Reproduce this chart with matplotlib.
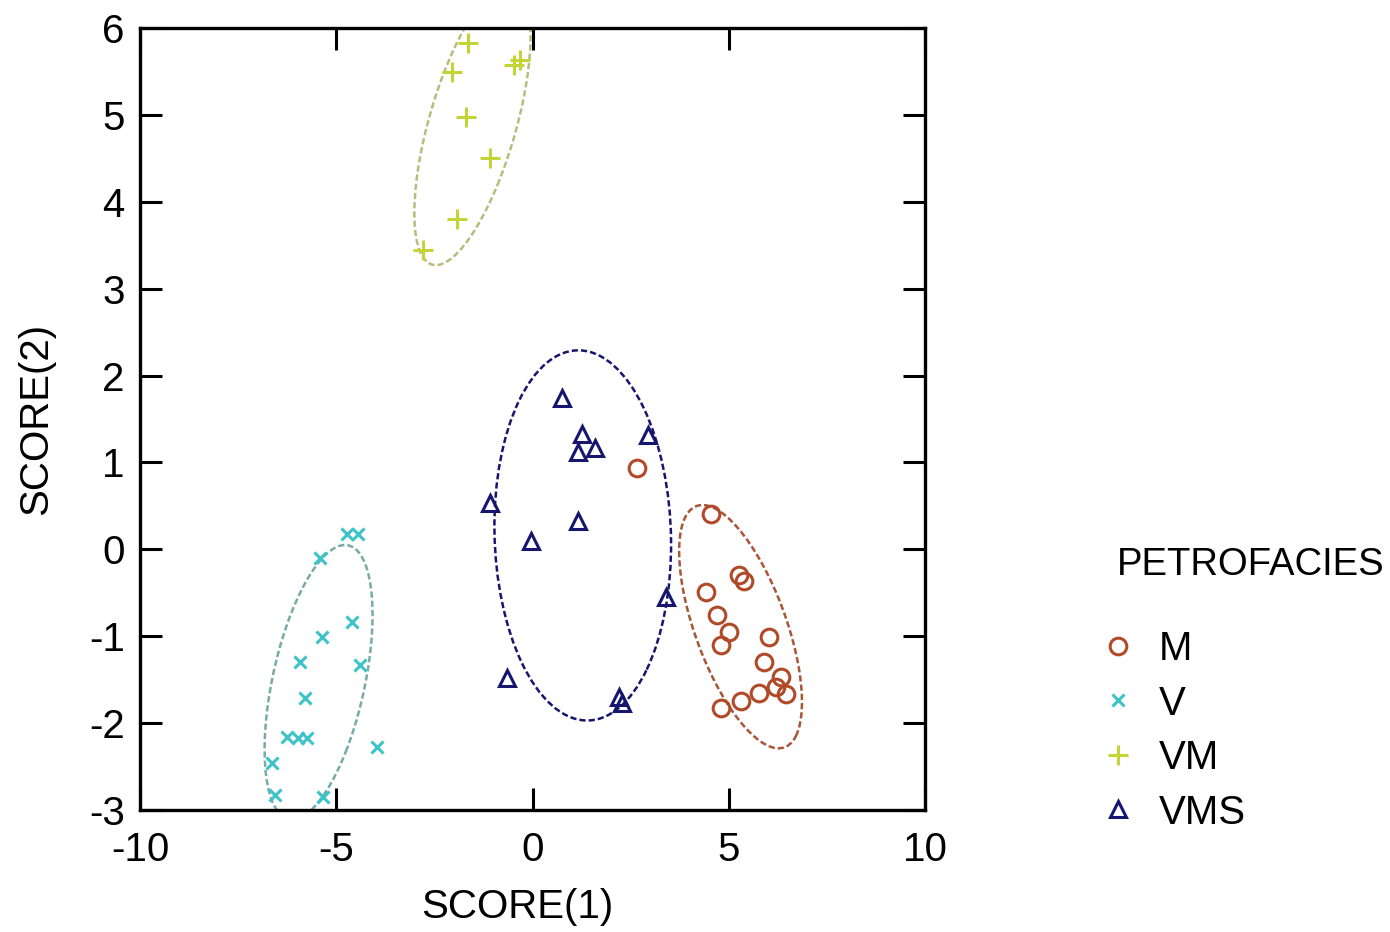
import numpy as np
import matplotlib

matplotlib.use("Agg")
import matplotlib.pyplot as plt
import matplotlib.transforms as mtransforms
from matplotlib.patches import Ellipse

plt.rcParams["font.family"] = ["Liberation Sans", "DejaVu Sans"]
plt.rcParams["axes.unicode_minus"] = False

groups = ["M", "V", "VM", "VMS"]

# discriminant scores
m_x = [2.65, 4.55, 5.27, 5.39, 4.43, 4.71, 5.01, 4.81, 6.03, 5.90, 6.34, 6.46, 5.78, 5.32, 4.81, 6.21]
m_y = [0.94, 0.41, -0.30, -0.36, -0.49, -0.76, -0.95, -1.10, -1.01, -1.30, -1.47, -1.66, -1.65, -1.74, -1.83, -1.59]

v_x = [-4.73, -4.45, -5.42, -4.61, -5.37, -5.93, -4.40, -5.80, -6.26, -5.98, -5.75, -3.97, -6.64, -6.56, -5.34]
v_y = [0.18, 0.18, -0.10, -0.84, -1.01, -1.30, -1.33, -1.71, -2.16, -2.17, -2.17, -2.28, -2.46, -2.83, -2.85]

vm_x = [-1.65, -2.06, -0.46, -0.33, -1.70, -1.09, -1.93, -2.80]
vm_y = [5.83, 5.49, 5.57, 5.63, 4.97, 4.50, 3.80, 3.45]

vms_x = [0.76, 1.25, 1.58, 1.15, 2.93, -1.09, 1.15, -0.03, 3.41, -0.64, 2.21, 2.29]
vms_y = [1.74, 1.33, 1.17, 1.12, 1.31, 0.53, 0.33, 0.10, -0.55, -1.48, -1.70, -1.77]

# group ellipses: centre, half extent in x / y, correlation
ell_cx = [5.30, -5.45, -1.53, 1.28]
ell_cy = [-0.89, -1.53, 4.89, 0.16]
ell_sx = [1.565, 1.375, 1.48, 2.25]
ell_sy = [1.40, 1.58, 1.62, 2.13]
ell_rho = [-0.62, 0.49, 0.63, -0.05]

xs = [m_x, v_x, vm_x, vms_x]
ys = [m_y, v_y, vm_y, vms_y]
markers = ["o", "x", "+", "^"]
msizes = [12, 8, 14, 11]
mcolors = ["#b04a28", "#3cc4c8", "#c4d436", "#16166e"]
ecolors = ["#a8553a", "#78aaaa", "#b8bc7c", "#16166e"]

fig = plt.figure(figsize=(13.9, 9.32), dpi=100)
ax = fig.add_axes([0.1007, 0.1309, 0.5648, 0.8391])

handles = []
for i, g in enumerate(groups):
    (h,) = ax.plot(
        xs[i], ys[i], linestyle="none", marker=markers[i], ms=msizes[i],
        mfc="none", mec=mcolors[i], mew=2.2, label=g,
    )
    handles.append(h)
    rho = ell_rho[i]
    ell = Ellipse((0, 0), width=2 * np.sqrt(1 + rho), height=2 * np.sqrt(1 - rho),
                  facecolor="none", edgecolor=ecolors[i], lw=1.8, linestyle=(0, (2.5, 1.2)))
    tr = mtransforms.Affine2D().rotate_deg(45).scale(ell_sx[i], ell_sy[i]).translate(ell_cx[i], ell_cy[i])
    ell.set_transform(tr + ax.transData)
    ax.add_patch(ell)

ax.set_xlim(-10, 10)
ax.set_ylim(-3, 6)
ax.set_xticks([-10, -5, 0, 5, 10])
ax.set_yticks(range(-3, 7))
ax.tick_params(direction="in", length=16, width=2.2, labelsize=29, pad=11,
               top=True, right=True)
ax.tick_params(axis="x", pad=15)
for s in ax.spines.values():
    s.set_linewidth(2.4)
ax.set_xlabel("SCORE(1)", fontsize=29)
ax.set_ylabel("SCORE(2)", fontsize=29, labelpad=24)
ax.xaxis.set_label_coords(0.48, -0.1)

fig.text(1117 / 1390, 1 - 565 / 932, "PETROFACIES", fontsize=27.5, ha="left", va="center")
leg = ax.legend(handles=handles, loc="upper left",
                bbox_to_anchor=(1098 / 1390, 1 - 630 / 932), bbox_transform=fig.transFigure,
                frameon=False, fontsize=29, handlelength=1.0, handletextpad=0.5,
                labelspacing=0.41, borderpad=0, borderaxespad=0)

fig.savefig("out.png", dpi=100)
